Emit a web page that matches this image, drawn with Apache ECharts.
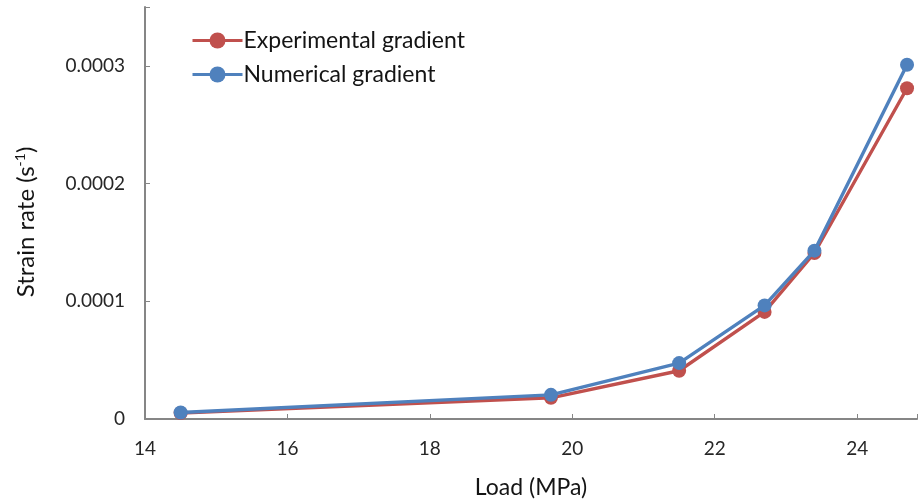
<!DOCTYPE html>
<html>
<head>
<meta charset="utf-8">
<script src="https://cdn.jsdelivr.net/npm/echarts@6/dist/echarts.min.js"></script>
<style>html,body{margin:0;padding:0;background:#fff;}#c{width:920px;height:504px;}</style>
</head>
<body>
<div id="c"></div>
<script>
const loads = [14.5, 19.7, 21.5, 22.7, 23.4, 24.7];
const experimental = [0.000005, 0.000018, 0.000041, 0.000091, 0.000141, 0.000281];
const numerical = [0.0000055, 0.0000205, 0.0000475, 0.0000965, 0.000143, 0.000301];
const seriesNames = ['Experimental gradient', 'Numerical gradient'];
const xTicks = [14, 16, 18, 20, 22, 24];
const yTicks = [0, 0.0001, 0.0002, 0.0003];

const FONT = 'Lato';
const TXT = '#141414';
const chart = echarts.init(document.getElementById('c'), null, {renderer: 'canvas'});
const pair = (xs, ys) => xs.map((x, i) => [x, ys[i]]);
chart.setOption({
  animation: false,
  backgroundColor: '#ffffff',
  textStyle: {fontFamily: FONT},
  grid: {left: 145, top: 7, right: 0, bottom: 82.5, containLabel: false},
  legend: {
    orient: 'vertical', left: 186, top: 24, itemGap: 11,
    itemWidth: 50, itemHeight: 20,
    data: seriesNames,
    lineStyle: {width: 3},
    textStyle: {fontFamily: FONT, fontSize: 23, color: TXT, padding: [0, 0, 0, -4]}
  },
  xAxis: {
    type: 'value', min: 14, max: 24.84, interval: 2,
    name: 'Load (MPa)', nameLocation: 'middle', nameGap: 57,
    nameTextStyle: {fontFamily: FONT, fontSize: 23, color: TXT},
    axisLine: {show: true, onZero: false, lineStyle: {color: '#868686', width: 2}},
    axisTick: {show: true, inside: true, length: 5, lineStyle: {color: '#868686', width: 1}},
    splitLine: {show: false},
    axisLabel: {
      margin: 20, fontFamily: FONT, fontSize: 19, color: '#262626',
      formatter: v => xTicks.indexOf(Math.round(v * 100) / 100) >= 0 ? String(v) : ''
    }
  },
  yAxis: {
    type: 'value', min: 0, max: 0.00035, interval: 0.0001,
    name: '{a|Strain rate (s}{s|-1}{a|)}', nameLocation: 'middle', nameGap: 106,
    nameTextStyle: {
      fontFamily: FONT, fontSize: 24, color: TXT, padding: [0, 18, 0, 0],
      rich: {
        a: {fontFamily: FONT, fontSize: 24, color: TXT},
        s: {fontFamily: FONT, fontSize: 14, color: TXT, padding: [0, 0, 12, 0]}
      }
    },
    axisLine: {show: true, lineStyle: {color: '#868686', width: 2}},
    axisTick: {show: true, inside: true, length: 5, lineStyle: {color: '#868686', width: 1}},
    splitLine: {show: false},
    axisLabel: {
      margin: 20, fontFamily: FONT, fontSize: 19, color: '#262626',
      formatter: v => {
        for (const t of yTicks) if (Math.abs(v - t) < 1e-9) return t === 0 ? '0' : t.toFixed(4);
        return '';
      }
    }
  },
  series: [
    {
      name: seriesNames[0], type: 'line', data: pair(loads, experimental),
      symbol: 'circle', symbolSize: 14, showSymbol: true,
      lineStyle: {color: '#C0504D', width: 3.4},
      itemStyle: {color: '#C0504D'}, z: 2
    },
    {
      name: seriesNames[1], type: 'line', data: pair(loads, numerical),
      symbol: 'circle', symbolSize: 14, showSymbol: true,
      lineStyle: {color: '#4F81BD', width: 3.4},
      itemStyle: {color: '#4F81BD'}, z: 3
    }
  ]
});
</script>
</body>
</html>
